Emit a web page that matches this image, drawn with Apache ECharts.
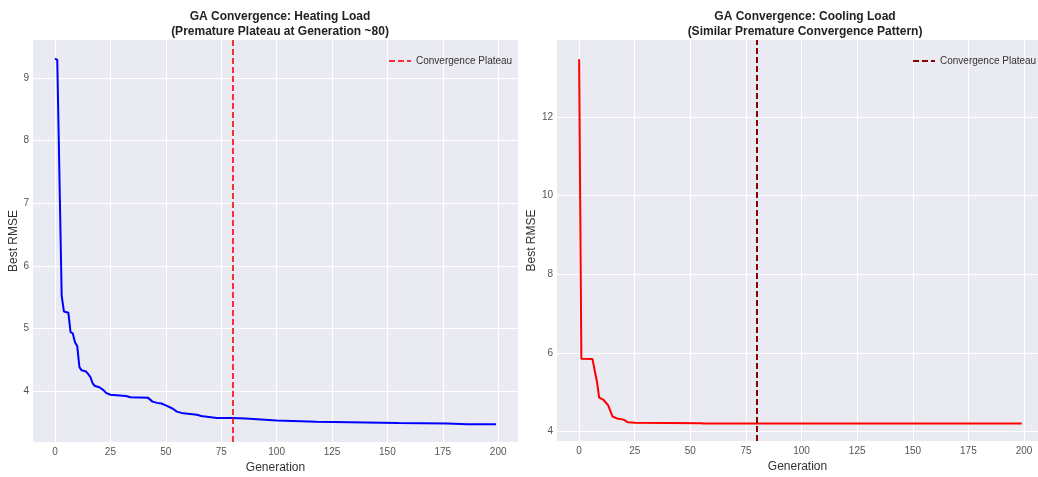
<!DOCTYPE html>
<html>
<head>
<meta charset="utf-8">
<script src="https://cdn.jsdelivr.net/npm/echarts@6/dist/echarts.min.js"></script>
<style>
  html, body { margin: 0; padding: 0; background: #fff; }
  #chart { width: 1038px; height: 477px; }
</style>
</head>
<body>
<div id="chart"></div>
<script>
// GA convergence - heating / cooling load best RMSE per generation
const heatingGens = [0, 1, 3, 4, 6, 7, 8, 9, 10, 11, 12, 14, 15, 16, 17, 18, 20, 22, 23, 25, 32, 34, 42, 44, 46, 48, 50, 53, 55, 57, 64, 66, 73, 80, 86, 100, 118, 155, 177, 186, 199]
const heatingRmse = [9.31, 9.29, 5.52, 5.27, 5.25, 4.94, 4.92, 4.78, 4.72, 4.38, 4.33, 4.31, 4.27, 4.22, 4.12, 4.08, 4.06, 4.01, 3.97, 3.94, 3.92, 3.90, 3.89, 3.83, 3.81, 3.80, 3.77, 3.72, 3.67, 3.65, 3.62, 3.60, 3.57, 3.57, 3.56, 3.53, 3.51, 3.49, 3.48, 3.47, 3.47]

const coolingGens = [0, 1, 6, 7, 8, 9, 11, 13, 15, 17, 20, 22, 25, 55, 56, 199]
const coolingRmse = [13.47, 5.85, 5.84, 5.55, 5.27, 4.86, 4.80, 4.67, 4.38, 4.33, 4.30, 4.23, 4.22, 4.21, 4.20, 4.20]

const plateauGen = 80
const xTicks = [0, 25, 50, 75, 100, 125, 150, 175, 200]
const heatingTicks = [4, 5, 6, 7, 8, 9]
const coolingTicks = [4, 6, 8, 10, 12]

const chart = echarts.init(document.getElementById('chart'))

const font = 'Liberation Sans'
const labelStyle = { color: '#555', fontSize: 10, fontFamily: font }
const nameStyle = { color: '#333', fontSize: 12, fontFamily: font }
const dashIcon = 'path://M0,4h6v2h-6zM9,4h6v2h-6zM18,4h4v2h-4z'

function xAxis(idx, max) {
  return {
    type: 'value',
    gridIndex: idx,
    min: -9.95,
    max: max,
    name: 'Generation',
    nameLocation: 'middle',
    nameGap: 17,
    nameTextStyle: nameStyle,
    axisLine: { show: false },
    axisTick: { show: false, customValues: xTicks },
    axisLabel: Object.assign({ customValues: xTicks, margin: 5 }, labelStyle),
    splitLine: { show: true, lineStyle: { color: '#fff', width: 1 } },
  }
}

function yAxis(idx, min, max, ticks, gap) {
  return {
    type: 'value',
    gridIndex: idx,
    min: min,
    max: max,
    name: 'Best RMSE',
    nameLocation: 'middle',
    nameGap: gap,
    nameTextStyle: nameStyle,
    axisLine: { show: false },
    axisTick: { show: false, customValues: ticks },
    axisLabel: Object.assign({ customValues: ticks, margin: 4 }, labelStyle),
    splitLine: { show: true, lineStyle: { color: '#fff', width: 1 } },
  }
}

function plateau(idx, color) {
  return {
    name: 'Convergence Plateau',
    type: 'line',
    xAxisIndex: idx,
    yAxisIndex: idx,
    data: [],
    symbol: 'none',
    lineStyle: { color: color, width: 2, type: [6, 3] },
    itemStyle: { color: color },
    markLine: {
      silent: true,
      symbol: 'none',
      label: { show: false },
      lineStyle: { color: color, width: 2, type: [6, 3] },
      data: [{ xAxis: plateauGen }],
    },
  }
}

function legend(left, color) {
  return {
    left: left,
    top: 51,
    itemWidth: 22,
    itemHeight: 10,
    itemGap: 6,
    textStyle: { color: '#333', fontSize: 10, fontFamily: font },
    data: [{ name: 'Convergence Plateau', icon: dashIcon, itemStyle: { color: color } }],
  }
}

const titleStyle = { fontSize: 12, fontWeight: 'bold', color: '#222', lineHeight: 15, fontFamily: font }

const options = {
  animation: false,
  title: [
    {
      text: 'GA Convergence: Heating Load\n(Premature Plateau at Generation ~80)',
      left: 275,
      top: 4,
      textAlign: 'center',
      textStyle: titleStyle,
    },
    {
      text: 'GA Convergence: Cooling Load\n(Similar Premature Convergence Pattern)',
      left: 800,
      top: 4,
      textAlign: 'center',
      textStyle: titleStyle,
    },
  ],
  legend: [legend(384, 'rgba(255,0,0,0.8)'), legend(908, '#8b0000')],
  grid: [
    { left: 33, top: 40, width: 485, height: 402, show: true, backgroundColor: '#EAEAF2', borderWidth: 0, outerBoundsMode: 'none' },
    { left: 557, top: 40, width: 481, height: 401, show: true, backgroundColor: '#EAEAF2', borderWidth: 0, outerBoundsMode: 'none' },
  ],
  xAxis: [xAxis(0, 208.95), xAxis(1, 206.3)],
  yAxis: [
    yAxis(0, 3.185, 9.607, heatingTicks, 8),
    yAxis(1, 3.756, 13.96, coolingTicks, 11),
  ],
  series: [
    {
      name: 'Heating',
      type: 'line',
      xAxisIndex: 0,
      yAxisIndex: 0,
      symbol: 'none',
      lineStyle: { color: '#0000ff', width: 2 },
      data: heatingGens.map((g, i) => [g, heatingRmse[i]]),
    },
    plateau(0, 'rgba(255,0,0,0.8)'),
    {
      name: 'Cooling',
      type: 'line',
      xAxisIndex: 1,
      yAxisIndex: 1,
      symbol: 'none',
      lineStyle: { color: '#ff0000', width: 2 },
      data: coolingGens.map((g, i) => [g, coolingRmse[i]]),
    },
    plateau(1, '#8b0000'),
  ],
}
chart.setOption(options)
</script>
</body>
</html>
